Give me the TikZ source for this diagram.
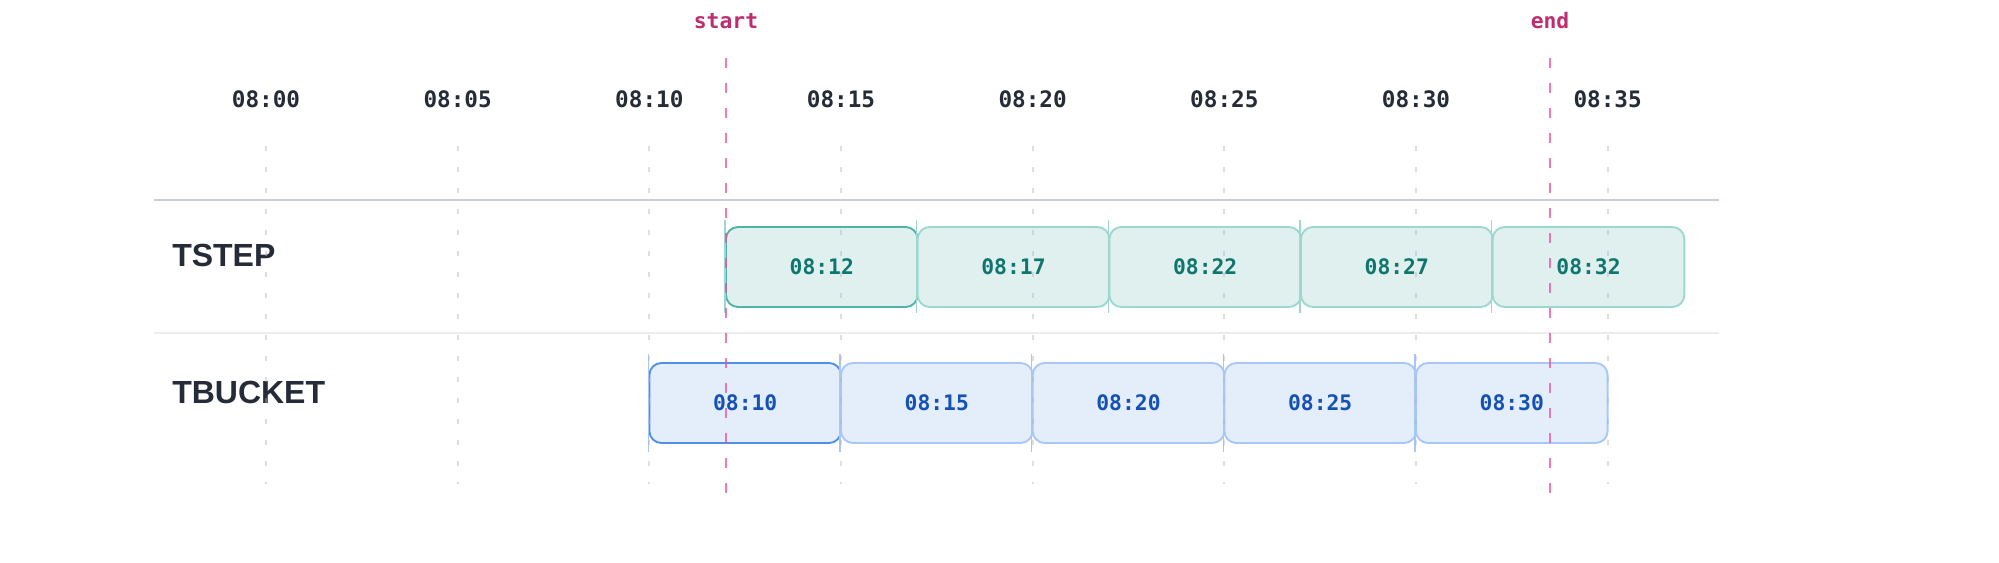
\documentclass[tikz,border=0pt]{standalone}
\usepackage{fontspec}
\setmainfont{Liberation Sans}
\setmonofont{DejaVu Sans Mono}
\definecolor{ink}{HTML}{252B37}
\definecolor{gridc}{HTML}{B0B6C6}
\definecolor{headc}{HTML}{C8CDD9}
\definecolor{sepc}{HTML}{ECEDF1}
\definecolor{tealfill}{HTML}{DFF0EF}
\definecolor{tealdark}{HTML}{4FB3AA}
\definecolor{teallight}{HTML}{9CD8D0}
\definecolor{tealtext}{HTML}{0F766E}
\definecolor{bluefill}{HTML}{E4EEFB}
\definecolor{bluedark}{HTML}{4F8FE6}
\definecolor{bluelight}{HTML}{A9C7F6}
\definecolor{bluetext}{HTML}{1550B5}
\definecolor{pinkline}{HTML}{EC4899}
\definecolor{pinktext}{HTML}{BE2D6E}
\begin{document}
\begin{tikzpicture}[x=0.75pt,y=-0.75pt,
  ticklbl/.style={font=\ttfamily\bfseries\fontsize{17}{20}\selectfont, text=ink, anchor=base, inner sep=0pt},
  rowlbl/.style={font=\rmfamily\bfseries\fontsize{24}{28}\selectfont, text=ink, anchor=base west, inner sep=0pt},
  marklbl/.style={font=\ttfamily\bfseries\fontsize{16}{19}\selectfont, text=pinktext, anchor=base, inner sep=0pt},
  gridline/.style={draw=gridc, opacity=0.45, line width=1.5pt, dash pattern=on 3.75pt off 12pt},
  slot/.style={rounded corners=9pt, minimum width=143.75pt, minimum height=60pt, inner sep=0pt, line width=1.4pt,
    font=\ttfamily\bfseries\fontsize{16}{19}\selectfont},
  tsbox/.style={slot, fill=tealfill, draw=teallight, text=tealtext},
  tsfirst/.style={tsbox, draw=tealdark},
  tbbox/.style={slot, fill=bluefill, draw=bluelight, text=bluetext},
  tbfirst/.style={tbbox, draw=bluedark},
  tstick/.style={draw=teallight, line width=1.1pt},
  tbtick/.style={draw=bluelight, line width=1.1pt},
  marker/.style={draw=pinkline, opacity=0.72, line width=2pt, dash pattern=on 7.5pt off 11.25pt}
]
\useasboundingbox[fill=white] (0,0) rectangle (1999,563);

% time axis labels
\foreach \t/\lab [count=\k] in {0/08:00,5/08:05,10/08:10,15/08:15,20/08:20,25/08:25,30/08:30,35/08:35}{
  \node[ticklbl] (tick\k) at ({266+38.333*\t},108) {\lab};
}

% header / separator lines
\draw[headc, line width=1.5pt] (154,200) -- (1719,200);
\draw[sepc, line width=1.2pt] (154,333) -- (1719,333);

% row labels
\node[rowlbl] (tstep) at (172,266) {TSTEP};
\node[rowlbl] (tbucket) at (172,403) {TBUCKET};

% TSTEP boxes
\node[tsfirst] (ts1) at (821.8,267) {08:12};
\node[tsbox]   (ts2) at (1013.5,267) {08:17};
\node[tsbox]   (ts3) at (1205.2,267) {08:22};
\node[tsbox]   (ts4) at (1396.8,267) {08:27};
\node[tsbox]   (ts5) at (1588.5,267) {08:32};
\foreach \n in {ts1,ts2,ts3,ts4,ts5}{
  \draw[tstick] ([yshift=4.5pt]\n.north west) -- ([yshift=-3.75pt]\n.south west);
}

% TBUCKET boxes
\node[tbfirst] (tb1) at (745.2,403) {08:10};
\node[tbbox]   (tb2) at (936.8,403) {08:15};
\node[tbbox]   (tb3) at (1128.5,403) {08:20};
\node[tbbox]   (tb4) at (1320.2,403) {08:25};
\node[tbbox]   (tb5) at (1511.8,403) {08:30};
\foreach \n in {tb1,tb2,tb3,tb4,tb5}{
  \draw[tbtick] ([yshift=6pt]\n.north west) -- ([yshift=-6pt]\n.south west);
}

% vertical dotted grid
\foreach \t in {0,5,10,15,20,25,30,35}{
  \draw[gridline] ({266+38.333*\t},146) -- ({266+38.333*\t},484);
}

% start / end markers
\node[marklbl] (start) at (726,29) {start};
\node[marklbl] (end) at (1550,29) {end};
\coordinate (starttop) at (726,58);
\coordinate (startbot) at (726,495);
\coordinate (endtop) at (1550,58);
\coordinate (endbot) at (1550,495);
\draw[marker] (starttop) -- (startbot);
\draw[marker] (endtop) -- (endbot);
\end{tikzpicture}
\end{document}
